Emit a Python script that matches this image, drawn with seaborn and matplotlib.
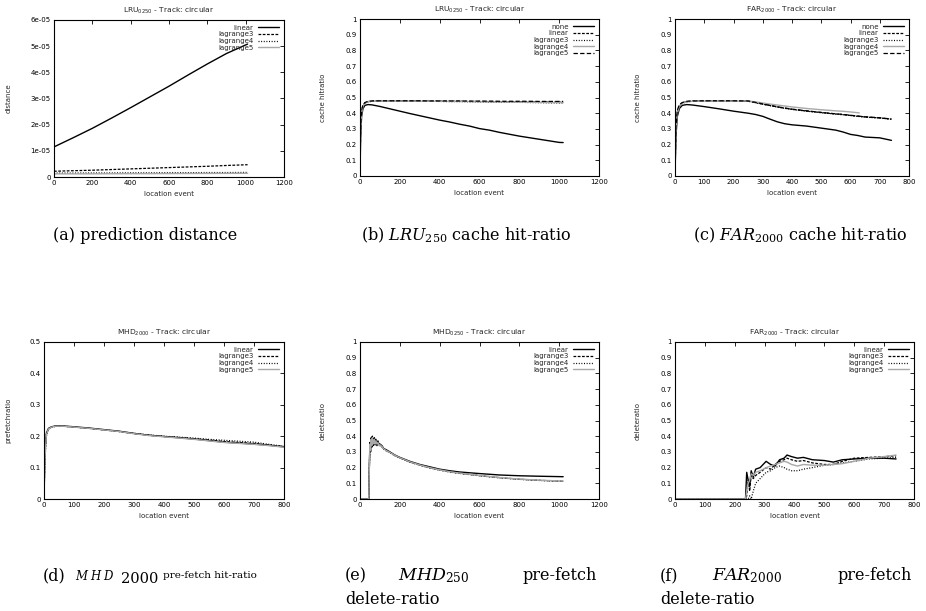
import matplotlib
matplotlib.use("Agg")
import matplotlib.pyplot as plt
import seaborn as sns

# ---------------------------------------------------------------- data
# (a) prediction distance, LRU0250
a_x = [0, 100, 200, 300, 400, 500, 600, 700, 800, 900, 1010]
a_linear = [1.15e-5, 1.50e-5, 1.86e-5, 2.25e-5, 2.65e-5, 3.06e-5, 3.47e-5, 3.90e-5, 4.32e-5, 4.72e-5, 5.08e-5]
a_lagrange3 = [2.2e-6, 2.4e-6, 2.6e-6, 2.85e-6, 3.1e-6, 3.35e-6, 3.6e-6, 3.85e-6, 4.1e-6, 4.4e-6, 4.7e-6]
a_lagrange4 = [1.5e-6, 1.5e-6, 1.55e-6, 1.55e-6, 1.6e-6, 1.6e-6, 1.65e-6, 1.65e-6, 1.7e-6, 1.7e-6, 1.75e-6]
a_lagrange5 = [1.2e-6, 1.2e-6, 1.22e-6, 1.25e-6, 1.27e-6, 1.3e-6, 1.32e-6, 1.35e-6, 1.37e-6, 1.4e-6, 1.42e-6]
a_yticks = [0, 1e-5, 2e-5, 3e-5, 4e-5, 5e-5, 6e-5]
a_yticklabels = ["0", "1e-05", "2e-05", "3e-05", "4e-05", "5e-05", "6e-05"]

# (b) cache hit-ratio, LRU0250
b_x = [0, 3, 8, 15, 25, 40, 60, 100, 150, 200, 250, 300, 350, 400, 450, 500,
       550, 600, 650, 700, 750, 800, 850, 900, 950, 1000, 1020]
b_none = [0, 0.25, 0.38, 0.43, 0.45, 0.455, 0.453, 0.443, 0.428, 0.413, 0.398, 0.384, 0.370, 0.356,
          0.344, 0.330, 0.318, 0.302, 0.292, 0.278, 0.266, 0.254, 0.244, 0.234, 0.224, 0.214, 0.213]
b_linear = [0, 0.30, 0.41, 0.45, 0.466, 0.474, 0.477, 0.478, 0.478, 0.478, 0.478, 0.478, 0.477, 0.477,
            0.476, 0.476, 0.475, 0.475, 0.474, 0.474, 0.473, 0.473, 0.472, 0.471, 0.471, 0.470, 0.470]
b_lagrange3 = [0, 0.29, 0.40, 0.445, 0.463, 0.472, 0.476, 0.477, 0.477, 0.477, 0.477, 0.476, 0.476, 0.475,
               0.474, 0.474, 0.473, 0.472, 0.471, 0.470, 0.470, 0.469, 0.468, 0.467, 0.466, 0.465, 0.465]
b_lagrange4 = [0, 0.29, 0.40, 0.445, 0.464, 0.473, 0.476, 0.477, 0.477, 0.477, 0.477, 0.477, 0.476, 0.476,
               0.475, 0.475, 0.474, 0.473, 0.472, 0.472, 0.471, 0.470, 0.470, 0.469, 0.468, 0.468, 0.467]
b_lagrange5 = [0, 0.31, 0.42, 0.455, 0.468, 0.476, 0.478, 0.479, 0.479, 0.479, 0.479, 0.479, 0.478, 0.478,
               0.478, 0.478, 0.477, 0.477, 0.477, 0.476, 0.476, 0.476, 0.476, 0.475, 0.475, 0.475, 0.475]

# (c) cache hit-ratio, FAR2000
c_x = [0, 3, 8, 15, 25, 40, 60, 100, 150, 200, 250, 275, 300, 325, 350, 375, 400, 450, 500,
       550, 575, 600, 625, 650, 700, 740]
c_none = [0, 0.25, 0.38, 0.43, 0.45, 0.455, 0.452, 0.442, 0.428, 0.413, 0.400, 0.392, 0.380, 0.362,
          0.345, 0.333, 0.326, 0.318, 0.305, 0.292, 0.280, 0.265, 0.258, 0.248, 0.243, 0.227]
c_linear = [0, 0.30, 0.41, 0.45, 0.466, 0.474, 0.477, 0.478, 0.478, 0.478, 0.477, 0.468, 0.458, 0.449,
            0.440, 0.432, 0.425, 0.414, 0.404, 0.395, 0.391, 0.386, 0.381, 0.376, 0.370, 0.362]
c_lagrange3 = [0, 0.29, 0.40, 0.445, 0.463, 0.472, 0.476, 0.477, 0.477, 0.477, 0.476, 0.467, 0.457, 0.448,
               0.439, 0.431, 0.424, 0.413, 0.403, 0.394, 0.390, 0.385, 0.380, 0.375, 0.369, 0.361]
c_lagrange4_x = [0, 3, 8, 15, 25, 40, 60, 100, 150, 200, 250, 275, 300, 325, 350, 375, 400, 450, 500,
                 550, 575, 600, 630]
c_lagrange4 = [0, 0.29, 0.40, 0.445, 0.464, 0.473, 0.476, 0.477, 0.477, 0.477, 0.478, 0.472, 0.465, 0.458,
               0.452, 0.446, 0.440, 0.430, 0.422, 0.415, 0.412, 0.408, 0.402]
c_lagrange5 = [0, 0.31, 0.42, 0.455, 0.468, 0.476, 0.478, 0.479, 0.479, 0.479, 0.478, 0.469, 0.459, 0.450,
               0.441, 0.433, 0.426, 0.415, 0.405, 0.396, 0.392, 0.387, 0.382, 0.377, 0.371, 0.363]

# (d) pre-fetch hit-ratio, MHD2000
d_x = [0, 3, 8, 15, 25, 40, 60, 100, 150, 200, 250, 300, 350, 400, 450, 500, 550, 600, 650, 700, 750, 800]
d_linear = [0, 0.15, 0.21, 0.225, 0.230, 0.233, 0.233, 0.230, 0.226, 0.221, 0.216, 0.209, 0.203, 0.199,
            0.195, 0.191, 0.186, 0.181, 0.178, 0.175, 0.171, 0.166]
d_lagrange3 = [0, 0.14, 0.205, 0.223, 0.229, 0.232, 0.232, 0.229, 0.225, 0.220, 0.215, 0.208, 0.203, 0.199,
               0.196, 0.192, 0.188, 0.183, 0.180, 0.177, 0.172, 0.167]
d_lagrange4 = [0, 0.12, 0.20, 0.222, 0.228, 0.232, 0.232, 0.229, 0.225, 0.220, 0.215, 0.209, 0.204, 0.200,
               0.197, 0.194, 0.190, 0.187, 0.184, 0.181, 0.174, 0.168]
d_lagrange5 = [0, 0.13, 0.205, 0.223, 0.229, 0.232, 0.232, 0.229, 0.225, 0.220, 0.215, 0.208, 0.202, 0.198,
               0.194, 0.190, 0.185, 0.180, 0.177, 0.174, 0.170, 0.165]

# (e) pre-fetch delete-ratio, MHD0250
e_x = [0, 44, 47, 50, 53, 56, 59, 62, 65, 68, 72, 76, 80, 85, 90, 95, 100, 110, 120, 130, 150,
       175, 200, 250, 300, 350, 400, 450, 500, 600, 700, 800, 900, 1020]
e_linear = [0, 0, 0.22, 0.36, 0.30, 0.39, 0.33, 0.40, 0.34, 0.37, 0.39, 0.35, 0.38, 0.34, 0.37, 0.35,
            0.35, 0.34, 0.32, 0.315, 0.30, 0.28, 0.265, 0.24, 0.22, 0.205, 0.19, 0.18, 0.172, 0.162,
            0.153, 0.148, 0.145, 0.142]
e_lagrange3 = [0, 0, 0.20, 0.35, 0.31, 0.38, 0.34, 0.39, 0.35, 0.38, 0.38, 0.34, 0.37, 0.35, 0.36, 0.34,
               0.345, 0.335, 0.318, 0.31, 0.297, 0.277, 0.262, 0.236, 0.216, 0.199, 0.185, 0.173, 0.164,
               0.149, 0.136, 0.126, 0.119, 0.113]
e_lagrange4 = [0, 0, 0.18, 0.34, 0.32, 0.37, 0.35, 0.38, 0.36, 0.37, 0.38, 0.35, 0.36, 0.35, 0.35, 0.34,
               0.34, 0.33, 0.316, 0.308, 0.295, 0.276, 0.261, 0.235, 0.215, 0.198, 0.184, 0.172, 0.163,
               0.148, 0.135, 0.125, 0.118, 0.112]
e_lagrange5 = [0, 0, 0.21, 0.35, 0.31, 0.38, 0.34, 0.39, 0.35, 0.37, 0.38, 0.35, 0.37, 0.35, 0.36, 0.34,
               0.345, 0.335, 0.318, 0.31, 0.297, 0.278, 0.263, 0.237, 0.217, 0.2, 0.186, 0.174, 0.165,
               0.15, 0.137, 0.127, 0.12, 0.114]

# (f) pre-fetch delete-ratio, FAR2000
f_x = [0, 236, 240, 245, 250, 255, 262, 270, 285, 305, 320, 335, 350, 365, 375, 390, 410, 430, 460,
       500, 530, 560, 600, 650, 700, 740]
f_linear = [0, 0, 0.17, 0.12, 0.08, 0.18, 0.14, 0.19, 0.20, 0.24, 0.22, 0.21, 0.25, 0.26, 0.28, 0.27,
            0.26, 0.265, 0.25, 0.245, 0.235, 0.25, 0.255, 0.26, 0.26, 0.255]
f_lagrange3 = [0, 0, 0.02, 0.12, 0.05, 0.15, 0.13, 0.15, 0.17, 0.20, 0.19, 0.22, 0.24, 0.25, 0.26, 0.25,
               0.24, 0.245, 0.23, 0.22, 0.22, 0.24, 0.26, 0.265, 0.27, 0.275]
f_lagrange4 = [0, 0, 0, 0, 0.02, 0, 0.05, 0.10, 0.13, 0.17, 0.18, 0.20, 0.21, 0.20, 0.19, 0.18,
               0.18, 0.19, 0.20, 0.215, 0.22, 0.23, 0.24, 0.255, 0.26, 0.265]
f_lagrange5 = [0, 0, 0.05, 0.10, 0.12, 0.16, 0.15, 0.17, 0.18, 0.20, 0.21, 0.22, 0.23, 0.24, 0.235, 0.22,
               0.21, 0.22, 0.215, 0.215, 0.22, 0.225, 0.24, 0.26, 0.27, 0.28]

hit_ticks = [0, 0.1, 0.2, 0.3, 0.4, 0.5, 0.6, 0.7, 0.8, 0.9, 1.0]
hit_ticklabels = ["0", "0.1", "0.2", "0.3", "0.4", "0.5", "0.6", "0.7", "0.8", "0.9", "1"]
prefetch_ticks = [0, 0.1, 0.2, 0.3, 0.4, 0.5]
prefetch_ticklabels = ["0", "0.1", "0.2", "0.3", "0.4", "0.5"]
x_ticks_1200 = [0, 200, 400, 600, 800, 1000, 1200]
x_ticks_800 = [0, 100, 200, 300, 400, 500, 600, 700, 800]

# ---------------------------------------------------------------- styles
sns.set_theme(style="white")
plt.rcParams["font.family"] = ["DejaVu Sans"]
plt.rcParams["axes.linewidth"] = 0.8
plt.rcParams["axes.edgecolor"] = "black"

SOLID = dict(color="black", linestyle="-", linewidth=1.0)
DASH = dict(color="black", linestyle=(0, (2.2, 1.2)), linewidth=0.9)
DOT = dict(color="black", linestyle=(0, (0.8, 1.3)), linewidth=0.9)
GRAY = dict(color="#a8a8a8", linestyle="-", linewidth=1.0)
LONGDASH = dict(color="black", linestyle=(0, (3.5, 1.8)), linewidth=0.9)

W, H = 926, 611
fig = plt.figure(figsize=(W / 100, H / 100), dpi=100)


def axes_px(left, top, right, bottom):
    ax = fig.add_axes([left / W, 1 - bottom / H, (right - left) / W, (bottom - top) / H])
    ax._px_box = (left, right)
    return ax


def draw(ax, series, title, ylabel, ylabel_x, xlim, xticks, ylim, yticks, yticklabels):
    for x, y, label, style in series:
        sns.lineplot(x=x, y=y, ax=ax, label=label, estimator=None, sort=False, **style)
    ax.set_xlim(*xlim)
    ax.set_ylim(*ylim)
    ax.set_xticks(xticks)
    ax.set_xticklabels([str(t) for t in xticks])
    ax.set_yticks(yticks)
    ax.set_yticklabels(yticklabels)
    ax.tick_params(direction="in", length=3, width=0.6, top=True, right=True,
                   labelsize=5, pad=2.5, colors="black")
    ax.set_title(title, fontsize=5.4, pad=5)
    ax.set_xlabel("location event", fontsize=5, labelpad=3.5)
    ax.set_ylabel(ylabel, fontsize=5)
    left, right = ax._px_box
    ax.yaxis.set_label_coords((ylabel_x - left) / (right - left), 0.5)
    for s in ax.spines.values():
        s.set_color("black")
        s.set_linewidth(0.8)
    ax.legend(loc="upper right", frameon=False, markerfirst=False, fontsize=5,
              handlelength=3.1, handletextpad=0.6, labelspacing=0.08,
              borderaxespad=0.3, borderpad=0.4)


ax_a = axes_px(54, 20, 284, 177)
draw(ax_a,
     [(a_x, a_linear, "linear", SOLID), (a_x, a_lagrange3, "lagrange3", DASH),
      (a_x, a_lagrange4, "lagrange4", DOT), (a_x, a_lagrange5, "lagrange5", GRAY)],
     "LRU$_{0250}$ - Track: circular", "distance", 12, (0, 1200), x_ticks_1200,
     (0, 6e-5), a_yticks, a_yticklabels)

ax_b = axes_px(360, 19, 599, 176)
draw(ax_b,
     [(b_x, b_none, "none", SOLID), (b_x, b_linear, "linear", DASH),
      (b_x, b_lagrange3, "lagrange3", DOT), (b_x, b_lagrange4, "lagrange4", GRAY),
      (b_x, b_lagrange5, "lagrange5", LONGDASH)],
     "LRU$_{0250}$ - Track: circular", "cache hitratio", 326, (0, 1200), x_ticks_1200,
     (0, 1), hit_ticks, hit_ticklabels)

ax_c = axes_px(675, 19, 909, 176)
draw(ax_c,
     [(c_x, c_none, "none", SOLID), (c_x, c_linear, "linear", DASH),
      (c_x, c_lagrange3, "lagrange3", DOT), (c_lagrange4_x, c_lagrange4, "lagrange4", GRAY),
      (c_x, c_lagrange5, "lagrange5", LONGDASH)],
     "FAR$_{2000}$ - Track: circular", "cache hitratio", 641, (0, 800), x_ticks_800,
     (0, 1), hit_ticks, hit_ticklabels)

ax_d = axes_px(44, 342, 284, 499)
draw(ax_d,
     [(d_x, d_linear, "linear", SOLID), (d_x, d_lagrange3, "lagrange3", DASH),
      (d_x, d_lagrange4, "lagrange4", DOT), (d_x, d_lagrange5, "lagrange5", GRAY)],
     "MHD$_{2000}$ - Track: circular", "prefetchratio", 11, (0, 800), x_ticks_800,
     (0, 0.5), prefetch_ticks, prefetch_ticklabels)

ax_e = axes_px(360, 342, 599, 499)
draw(ax_e,
     [(e_x, e_linear, "linear", SOLID), (e_x, e_lagrange3, "lagrange3", DASH),
      (e_x, e_lagrange4, "lagrange4", DOT), (e_x, e_lagrange5, "lagrange5", GRAY)],
     "MHD$_{0250}$ - Track: circular", "deleteratio", 326, (0, 1200), x_ticks_1200,
     (0, 1), hit_ticks, hit_ticklabels)

ax_f = axes_px(675, 342, 914, 499)
draw(ax_f,
     [(f_x, f_linear, "linear", SOLID), (f_x, f_lagrange3, "lagrange3", DASH),
      (f_x, f_lagrange4, "lagrange4", DOT), (f_x, f_lagrange5, "lagrange5", GRAY)],
     "FAR$_{2000}$ - Track: circular", "deleteratio", 641, (0, 800), x_ticks_800,
     (0, 1), hit_ticks, hit_ticklabels)

# ---------------------------------------------------------------- captions
CAP = dict(family="DejaVu Serif", fontsize=11.5, color="black", math_fontfamily="dejavuserif")


def cap(x, y, s, ha="left", **kw):
    opts = dict(CAP)
    opts.update(kw)
    fig.text(x / W, 1 - y / H, s, ha=ha, va="center", **opts)


cap(145, 235, "(a) prediction distance", ha="center")
cap(466, 235, "(b) $LRU_{250}$ cache hit-ratio", ha="center")
cap(800, 235, "(c) $FAR_{2000}$ cache hit-ratio", ha="center")

cap(43, 576, "(d)")
cap(75, 576, "$M\\;H\\;D$", fontsize=8.5)
cap(121, 579, "2000", fontsize=10.5)
cap(163, 576, "pre-fetch hit-ratio", fontsize=7.5)

cap(345, 576, "(e)")
cap(398, 576, "$MHD_{250}$", fontsize=12.5)
cap(597, 576, "pre-fetch", ha="right")
cap(345, 599, "delete-ratio")

cap(660, 576, "(f)")
cap(712, 576, "$FAR_{2000}$", fontsize=12.5)
cap(912, 576, "pre-fetch", ha="right")
cap(660, 599, "delete-ratio")

fig.savefig("out.png", dpi=100, facecolor="white")
